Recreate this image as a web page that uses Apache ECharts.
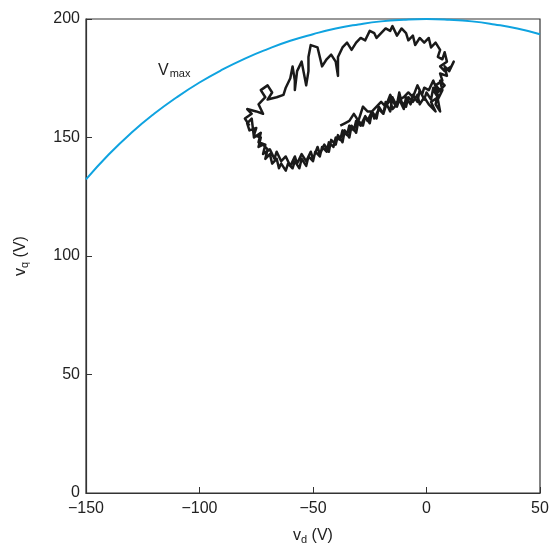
<!DOCTYPE html>
<html>
<head>
<meta charset="utf-8">
<script src="https://cdn.jsdelivr.net/npm/echarts@6/dist/echarts.min.js"></script>
<style>html,body{margin:0;padding:0;background:#fff}#c{width:551px;height:548px}</style>
</head>
<body>
<div id="c"></div>
<script>
var xTicks = [-150, -100, -50, 0, 50];
var yTicks = [0, 50, 100, 150, 200];

// V_max limit circle
var vmaxD = [-150, -140, -130, -120, -110, -100, -90, -80, -70, -60, -50, -40, -30, -20, -10, 0, 10, 20, 30, 40, 50];
var vmaxQ = [132.3, 142.8, 152.0, 160.0, 167.0, 173.2, 178.6, 183.3, 187.3, 190.8, 193.6, 196.0, 197.7, 199.0, 199.7, 200, 199.7, 199.0, 197.7, 196.0, 193.6];

var trajD = [
  -78,-80,-77,-79,-75,-72,-74,-71,-73,-70,-68,-70,-66,-63,-62,-60,-59,-58,-58,-57,-55,-54,-53,-52,-52,-51,-48,-47,-46,-44,
  -42,-40,-39,-39,-37,-35,-33,-31,-29,-27,-25,-23,-22,-20,-18,-16,-15,-13,-11,-9,-8,-6,-5,-3,-1,1,2,4,6,5,
  7,8,9,6,8,11,12,10,8,9,6,7,4,6,
  3,5,2,4,1,-1,-3,-4,-6,-8,-9,-11,-12,-13,-15,-16,-18,-19,-21,-23,-24,-26,-27,-29,-31,-32,-34,-35,-37,-38,
  -40,-41,-43,-44,-46,-47,-49,-50,-52,-53,-55,-56,-58,-59,-61,-62,-64,-65,-66,-68,-69,-71,-70,-72,-74,-73,-76,-75,-78,-79,-77,
  -76,-73,-74,-71,-72,-69,-67,-66,-64,-62,-60,-58,-57,-55,-53,-51,-50,-48,-47,-45,-43,-42,-40,-39,-37,-36,-34,-33,-31,-30,
  -28,-27,-25,-24,-22,-21,-19,-18,-16,-15,-13,-12,-10,-9,-7,-6,-4,-3,-1,0,2,3,5,4,6,5,7,6,
  8,5,3,1,-1,-2,-4,-6,-8,-10,-12,-14,-16,-18,-20,-22,-24,-26,-28,-30,-32,-34,-36,-38];
var trajQ = [
  155,158,160,162,161,160,164,167,170,172,169,166,167,168,171,175,180,174,170,178,182,177,172,178,184,189,188,184,180,183,
  185,182,176,184,188,190,187,190,192,191,195,194,192,194,196,195,197,193,196,194,191,193,189,192,190,192,188,190,187,184,
  183,186,182,180,178,180,182,178,180,176,177,174,172,170,
  170,167,165,161,164,167,164,168,165,167,163,165,169,164,162,166,163,160,162,158,161,157,159,155,157,153,155,151,153,149,
  150,146,148,144,146,142,144,140,142,138,141,137,140,137,139,136,139,137,141,139,143,141,145,147,146,150,151,154,153,156,158,
  150,152,148,147,143,145,141,144,140,142,138,142,139,143,140,144,141,146,143,147,144,149,147,151,148,153,150,155,152,157,
  155,159,156,161,158,163,160,165,161,167,163,166,162,167,164,168,165,170,166,169,166,171,168,164,161,166,170,174,
  172,169,174,170,171,168,172,167,169,167,166,164,168,163,165,163,161,161,163,157,160,157,156,155];

function zip(a, b) { return a.map(function (v, i) { return [v, b[i]]; }); }
function fmt(v) { return String(v).replace('-', '\u2212'); }

var chart = echarts.init(document.getElementById('c'), null, {renderer: 'canvas'});
var font = 'Liberation Sans, Arial, Helvetica, sans-serif';
chart.setOption({
  animation: false,
  grid: {left: 86, right: 11, top: 19, bottom: 55, containLabel: false, outerBoundsMode: 'none',
         show: true, borderColor: '#333', borderWidth: 1.2, backgroundColor: 'transparent'},
  xAxis: {
    type: 'value', min: xTicks[0], max: xTicks[xTicks.length - 1], interval: 50,
    axisLine: {show: true, onZero: false, lineStyle: {color: '#333', width: 1.2}},
    axisTick: {show: true, inside: true, length: 6, lineStyle: {color: '#333'}},
    splitLine: {show: false},
    axisLabel: {formatter: fmt, color: '#222', fontSize: 16, fontFamily: font, margin: 8, showMinLabel: true, showMaxLabel: true},
    name: '{a|v}{b|d}{a| (V)}', nameLocation: 'middle', nameGap: 33,
    nameTextStyle: {rich: {a: {fontSize: 16, color: '#222', fontFamily: font}, b: {fontSize: 11, color: '#222', fontFamily: font, padding: [8, 0, 0, 0]}}}
  },
  yAxis: {
    type: 'value', min: yTicks[0], max: yTicks[yTicks.length - 1], interval: 50,
    axisLine: {show: true, onZero: false, lineStyle: {color: '#333', width: 1.2}},
    axisTick: {show: true, inside: true, length: 6, lineStyle: {color: '#333'}},
    splitLine: {show: false},
    axisLabel: {formatter: fmt, color: '#222', fontSize: 16, fontFamily: font, margin: 6},
    name: '{a|v}{b|q}{a| (V)}', nameLocation: 'middle', nameGap: 56, nameRotate: 90,
    nameTextStyle: {rich: {a: {fontSize: 16, color: '#222', fontFamily: font}, b: {fontSize: 11, color: '#222', fontFamily: font, padding: [8, 0, 0, 0]}}}
  },
  graphic: [{
    type: 'text', left: 158, top: 63,
    style: {text: '{a|V}{b|max}', rich: {a: {fontSize: 16, fill: '#222', fontFamily: font}, b: {fontSize: 11, fill: '#222', fontFamily: font, padding: [6, 0, 0, 1]}}}
  }],
  series: [
    {type: 'line', data: zip(vmaxD, vmaxQ), smooth: true, showSymbol: false, lineStyle: {color: '#0fa3e0', width: 2}, z: 2},
    {type: 'line', data: zip(trajD, trajQ), showSymbol: false, lineStyle: {color: '#1a1a1a', width: 2.5, join: 'round'}, z: 3}
  ]
});
</script>
</body>
</html>
